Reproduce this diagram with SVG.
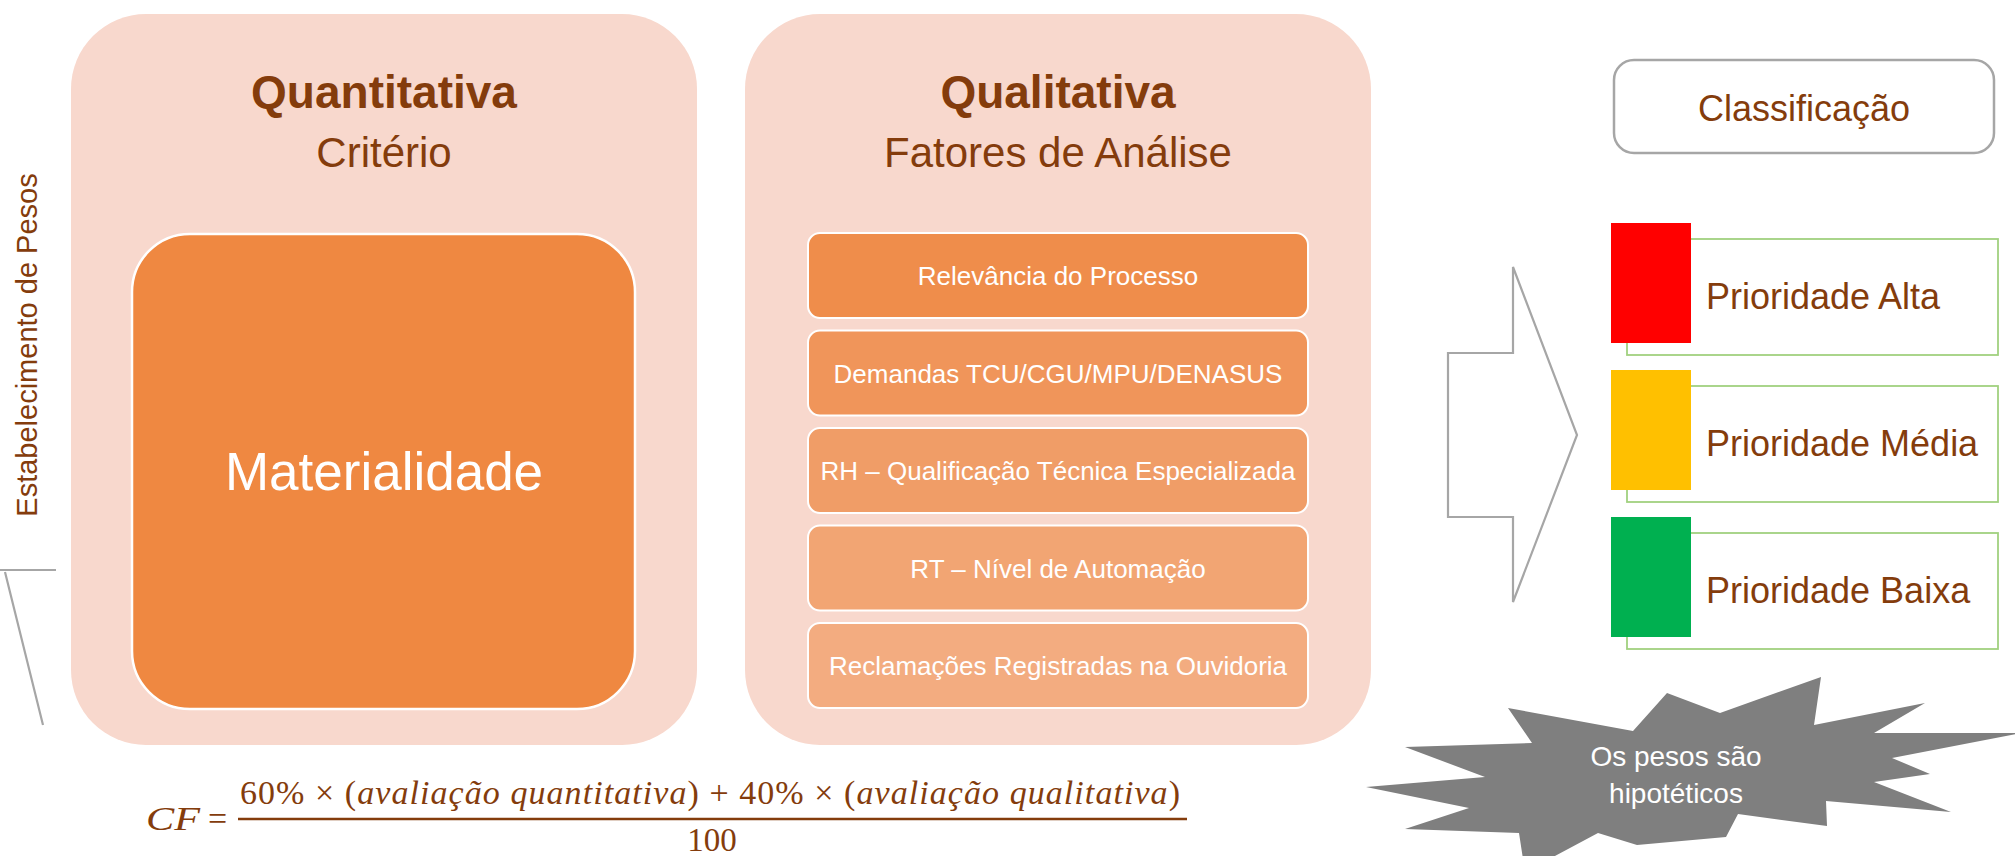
<svg xmlns="http://www.w3.org/2000/svg" width="2015" height="856" viewBox="0 0 2015 856">
<style>
.panel{fill:#F8D8CD;}
.title{font-family:"Liberation Sans",Arial,sans-serif;font-weight:bold;font-size:46px;fill:#843C0C;text-anchor:middle;}
.sub{font-family:"Liberation Sans",Arial,sans-serif;font-size:42px;fill:#843C0C;text-anchor:middle;}
.fbox{stroke:#FFFFFF;stroke-width:2;}
.ftxt{font-family:"Liberation Sans",Arial,sans-serif;font-size:26px;fill:#FFFFFF;text-anchor:middle;}
.prio{font-family:"Liberation Sans",Arial,sans-serif;font-size:36px;fill:#843C0C;}
.outl{fill:#FFFFFF;stroke:#A1D17F;stroke-width:1.8;}
.gray{fill:none;stroke:#A6A6A6;stroke-width:2.2;}
.math{font-family:"Liberation Serif","Times New Roman",serif;fill:#843C0C;}
.it{font-style:italic;}
</style>

<g id="label-pesos">
<text transform="translate(37,345) rotate(-90)" font-family="Liberation Sans, Arial, sans-serif" font-size="29" fill="#843C0C" text-anchor="middle">Estabelecimento de Pesos</text>
<path class="gray" d="M0,570 H56 M5,572 L43,725"/>
</g>

<g id="panel-quantitativa">
<rect class="panel" x="71" y="14" width="626" height="731" rx="75" ry="75"/>
<text class="title" x="384" y="108">Quantitativa</text>
<text class="sub" x="384" y="167">Critério</text>
</g>

<g id="node-materialidade">
<rect x="132" y="234" width="503" height="475" rx="58" ry="58" fill="#EF8841" stroke="#FFFFFF" stroke-width="2.5"/>
<text x="384" y="490" font-family="Liberation Sans, Arial, sans-serif" font-size="53" fill="#FFFFFF" text-anchor="middle">Materialidade</text>
</g>

<g id="panel-qualitativa">
<rect class="panel" x="745" y="14" width="626" height="731" rx="75" ry="75"/>
<text class="title" x="1058" y="108">Qualitativa</text>
<text class="sub" x="1058" y="167">Fatores de Análise</text>
</g>

<g id="node-relevancia">
<rect class="fbox" x="808" y="233" width="500" height="85" rx="12" fill="#EF8D4B"/>
<text class="ftxt" x="1058" y="285">Relevância do Processo</text>
</g>
<g id="node-demandas">
<rect class="fbox" x="808" y="330.5" width="500" height="85" rx="12" fill="#F0955A"/>
<text class="ftxt" x="1058" y="382.5">Demandas TCU/CGU/MPU/DENASUS</text>
</g>
<g id="node-rh">
<rect class="fbox" x="808" y="428" width="500" height="85" rx="12" fill="#F09D67"/>
<text class="ftxt" x="1058" y="480">RH – Qualificação Técnica Especializada</text>
</g>
<g id="node-rt">
<rect class="fbox" x="808" y="525.5" width="500" height="85" rx="12" fill="#F2A573"/>
<text class="ftxt" x="1058" y="577.5">RT – Nível de Automação</text>
</g>
<g id="node-reclamacoes">
<rect class="fbox" x="808" y="623" width="500" height="85" rx="12" fill="#F3AC80"/>
<text class="ftxt" x="1058" y="675">Reclamações Registradas na Ouvidoria</text>
</g>

<g id="connectors">
<path d="M1448,353 L1513,353 L1513,267 L1577,435 L1513,602 L1513,517 L1448,517 Z" fill="#FFFFFF" stroke="#A6A6A6" stroke-width="2.2" stroke-linejoin="miter"/>
</g>

<g id="node-classificacao">
<rect x="1614" y="60" width="380" height="93" rx="20" ry="20" fill="#FFFFFF" stroke="#A6A6A6" stroke-width="2.5"/>
<text x="1804" y="121" font-family="Liberation Sans, Arial, sans-serif" font-size="36" fill="#843C0C" text-anchor="middle">Classificação</text>
</g>

<g id="node-alta">
<rect class="outl" x="1627" y="239" width="371" height="116"/>
<rect x="1611" y="223" width="80" height="120" fill="#FF0000"/>
<text class="prio" x="1706" y="309">Prioridade Alta</text>
</g>
<g id="node-media">
<rect class="outl" x="1627" y="386" width="371" height="116"/>
<rect x="1611" y="370" width="80" height="120" fill="#FFC000"/>
<text class="prio" x="1706" y="456">Prioridade Média</text>
</g>
<g id="node-baixa">
<rect class="outl" x="1627" y="533" width="371" height="116"/>
<rect x="1611" y="517" width="80" height="120" fill="#00B050"/>
<text class="prio" x="1706" y="603">Prioridade Baixa</text>
</g>

<g id="node-pesos-hipoteticos">
<polygon fill="#7F7F7F" points="1821,677 1814,725 1925,703 1874,733 2022,733 1892,758 1930,774 1874,782 1951,812 1826,801 1827,826 1738,814 1726,837 1637,845 1598,833 1525,872 1519,833 1405,829 1469,808 1366,787 1485,777 1405,747 1532,743 1508,708 1633,731 1667,693 1720,713"/>
<text x="1676" y="766" font-family="Liberation Sans, Arial, sans-serif" font-size="28" fill="#FFFFFF" text-anchor="middle">Os pesos são</text>
<text x="1676" y="803" font-family="Liberation Sans, Arial, sans-serif" font-size="28" fill="#FFFFFF" text-anchor="middle">hipotéticos</text>
</g>

<g id="formula">
<text class="math it" x="146" y="830" font-size="34" textLength="54" lengthAdjust="spacingAndGlyphs">CF</text>
<text class="math" x="208" y="830" font-size="34">=</text>
<line x1="238" y1="819" x2="1187" y2="819" stroke="#843C0C" stroke-width="2.5"/>
<text class="math" x="240" y="804" font-size="34" textLength="940" lengthAdjust="spacing">60% × (<tspan class="it">avaliação quantitativa</tspan>) + 40% × (<tspan class="it">avaliação qualitativa</tspan>)</text>
<text class="math" x="712" y="851" font-size="33" text-anchor="middle">100</text>
</g>
</svg>
